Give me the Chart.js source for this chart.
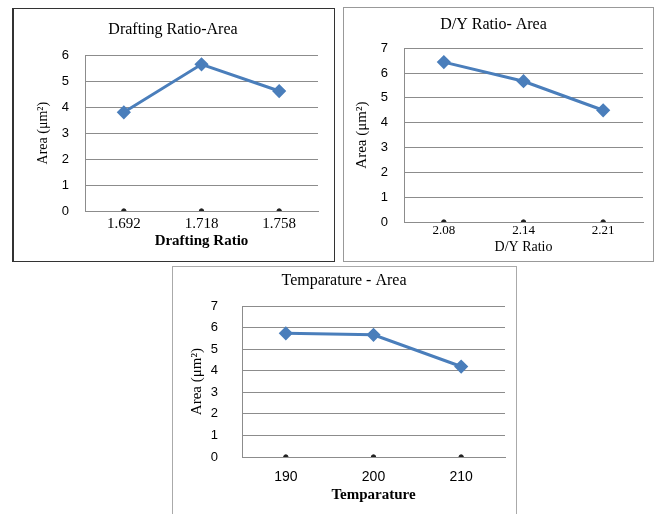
<!DOCTYPE html>
<html>
<head>
<meta charset="utf-8">
<title>Area charts</title>
<script src="https://cdn.jsdelivr.net/npm/chart.js@4.4.1/dist/chart.umd.min.js"></script>
<style>
  html, body { margin: 0; padding: 0; background: #fff; width: 656px; height: 514px; overflow: hidden; }
  .box { position: absolute; border: 1px solid #888; background: #fff; }
  .box canvas { display: block; }
  #box1 { left: 12px; top: 8px; border-color: #333; border-left-width: 2px; }
  #box2 { left: 343px; top: 7px; border-color: #999; }
  #box3 { left: 172px; top: 266px; border-color: #aaa; }
</style>
</head>
<body>
<div class="box" id="box1"><canvas id="draftChart" width="320" height="252"></canvas></div>
<div class="box" id="box2"><canvas id="dyChart" width="309" height="253"></canvas></div>
<div class="box" id="box3"><canvas id="tempChart" width="343" height="252"></canvas></div>
<script>
// Area vs. process parameter
const draftLabels = ['1.692', '1.718', '1.758'];
const draftArea = [3.8, 5.65, 4.62];

const dyLabels = ['2.08', '2.14', '2.21'];
const dyArea = [6.44, 5.67, 4.5];

const tempLabels = ['190', '200', '210'];
const tempArea = [5.74, 5.67, 4.2];

// small markers sitting on the zero line
const baseMarks = [0, 0, 0];

const draftYMax = 6;
const dyYMax = 7;
const tempYMax = 7;

const lineBlue = '#4a7ebb';
const gridGray = '#8c8c8c';
const serif = '"Liberation Serif", "Times New Roman", serif';
const sans = '"Liberation Sans", Arial, sans-serif';

function makeChart(id, o) {
  const ctx = document.getElementById(id);
  return new Chart(ctx, {
    type: 'line',
    data: {
      labels: o.labels,
      datasets: [{
        data: o.values,
        borderColor: lineBlue,
        backgroundColor: lineBlue,
        borderWidth: 3,
        pointStyle: 'rectRot',
        pointRadius: 5,
        pointBackgroundColor: lineBlue,
        pointBorderColor: lineBlue,
        tension: 0
      }, {
        data: baseMarks,
        showLine: false,
        pointRadius: 2.2,
        pointBackgroundColor: '#222',
        pointBorderColor: '#222'
      }]
    },
    options: {
      responsive: false,
      animation: false,
      devicePixelRatio: 1,
      layout: { padding: o.padding },
      plugins: {
        legend: { display: false },
        tooltip: { enabled: false },
        title: {
          display: true,
          text: o.title,
          color: '#000',
          font: { family: serif, size: 16, weight: 'normal' },
          padding: o.titlePad
        }
      },
      scales: {
        x: {
          offset: true,
          grid: { display: false, drawTicks: false },
          border: { display: true, color: gridGray, width: 1 },
          ticks: { color: '#000', font: o.xTickFont, padding: o.xTickPad, maxRotation: 0 },
          title: {
            display: true,
            text: o.xTitle,
            color: '#000',
            font: o.xTitleFont,
            padding: { top: 0, bottom: o.xTitlePad }
          },
          afterFit: function(scale) { scale.height = o.xHeight; }
        },
        y: {
          min: 0,
          max: o.yMax,
          grid: { color: gridGray, lineWidth: 1, drawTicks: false },
          border: { display: true, color: gridGray, width: 1 },
          ticks: { stepSize: 1, color: '#000', font: { family: sans, size: 13 }, padding: o.yTickPad },
          title: {
            display: true,
            text: 'Area (\u03bcm\u00b2)',
            color: '#000',
            font: { family: serif, size: o.yTitleSize },
            padding: { top: o.yTitlePad, bottom: 0 }
          },
          afterFit: function(scale) { scale.width = o.yWidth; }
        }
      }
    }
  });
}

makeChart('draftChart', {
  labels: draftLabels,
  values: draftArea,
  yMax: draftYMax,
  title: 'Drafting Ratio-Area',
  titlePad: { top: 11, bottom: 16 },
  padding: { left: 14, right: 16, top: 0, bottom: 0 },
  yWidth: 57,
  yTickPad: 16,
  yTitleSize: 14,
  yTitlePad: 7,
  xHeight: 50,
  xTickFont: { family: serif, size: 15 },
  xTickPad: 4,
  xTitle: 'Drafting Ratio',
  xTitleFont: { family: serif, size: 15, weight: 'bold' },
  xTitlePad: 11
});

makeChart('dyChart', {
  labels: dyLabels,
  values: dyArea,
  yMax: dyYMax,
  title: 'D/Y Ratio- Area',
  titlePad: { top: 7, bottom: 14 },
  padding: { left: 0, right: 10, top: 0, bottom: 0 },
  yWidth: 60,
  yTickPad: 16,
  yTitleSize: 15,
  yTitlePad: 9,
  xHeight: 39,
  xTickFont: { family: serif, size: 13 },
  xTickPad: 1,
  xTitle: 'D/Y Ratio',
  xTitleFont: { family: serif, size: 14 },
  xTitlePad: 5
});

makeChart('tempChart', {
  labels: tempLabels,
  values: tempArea,
  yMax: tempYMax,
  title: 'Temparature - Area',
  titlePad: { top: 4, bottom: 16 },
  padding: { left: 10, right: 11, top: 0, bottom: 0 },
  yWidth: 59,
  yTickPad: 24,
  yTitleSize: 15,
  yTitlePad: 5,
  xHeight: 62,
  xTickFont: { family: sans, size: 14 },
  xTickPad: 12,
  xTitle: 'Temparature',
  xTitleFont: { family: serif, size: 15, weight: 'bold' },
  xTitlePad: 15
});
</script>
</body>
</html>
